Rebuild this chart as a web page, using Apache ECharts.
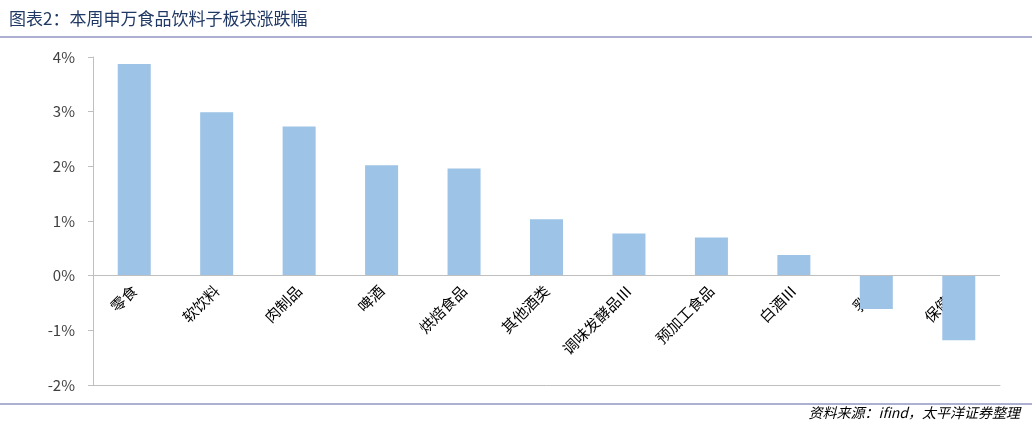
<!DOCTYPE html>
<html><head><meta charset="utf-8">
<script src="https://cdn.jsdelivr.net/npm/echarts@6/dist/echarts.min.js"></script>
<style>body{margin:0}#c{width:1032px;height:429px}</style></head>
<body><div id="c"></div>
<script>
var categories = ['零食', '软饮料', '肉制品', '啤酒', '烘焙食品', '其他酒类', '调味发酵品Ⅲ', '预加工食品', '白酒Ⅲ', '乳品', '保健品'];
var changes = [3.87, 2.99, 2.73, 2.02, 1.96, 1.03, 0.77, 0.70, 0.38, -0.61, -1.18];
var yTicks = [-2, -1, 0, 1, 2, 3, 4];

var chart = echarts.init(document.getElementById('c'));
chart.setOption({
    backgroundColor: '#fff',
    textStyle: { fontFamily: 'Noto Sans CJK SC' },
    title: {
        text: '图表2：本周申万食品饮料子板块涨跌幅',
        left: 4, top: 5,
        textStyle: { fontSize: 17, fontWeight: 'normal', color: '#1F3864' }
    },
    graphic: [
        { type: 'line', shape: { x1: 0, y1: 37, x2: 1032, y2: 37 }, style: { stroke: '#5B5EA6', lineWidth: 1 } },
        { type: 'line', shape: { x1: 0, y1: 404, x2: 1032, y2: 404 }, style: { stroke: '#5B5EA6', lineWidth: 1 } },
        { type: 'text', right: 12, top: 406, style: { text: '资料来源：ifind，太平洋证券整理', font: 'italic 14px "Noto Sans CJK SC"', fill: '#000' } }
    ],
    grid: { left: 93, right: 32, top: 57, bottom: 44, outerBoundsMode: 'none', containLabel: false },
    xAxis: {
        type: 'category', data: categories,
        axisLine: { onZero: false, lineStyle: { color: '#bfbfbf' } },
        axisTick: { show: false },
        axisLabel: { rotate: 45, color: '#000', fontSize: 15, interval: 0, margin: -97 }
    },
    yAxis: {
        type: 'value', min: yTicks[0], max: yTicks[yTicks.length - 1], interval: 1,
        axisLine: { show: true, lineStyle: { color: '#bfbfbf' } },
        axisTick: { show: true, lineStyle: { color: '#bfbfbf' } },
        splitLine: { show: false },
        axisLabel: { formatter: '{value}%', color: '#404040', fontSize: 15, margin: 18 }
    },
    series: [{
        type: 'bar', data: changes, barWidth: 33,
        itemStyle: { color: '#9DC3E6' },
        markLine: {
            silent: true, symbol: 'none', label: { show: false },
            lineStyle: { color: '#bfbfbf', type: 'solid', width: 1 },
            data: [{ yAxis: 0 }]
        }
    }]
});
</script></body></html>
